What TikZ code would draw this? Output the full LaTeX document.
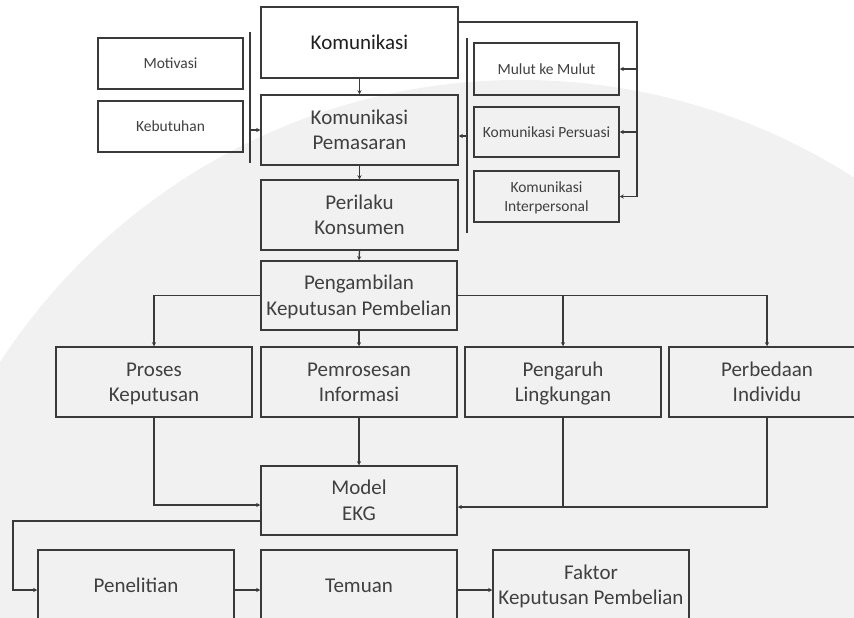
\documentclass[tikz,border=0pt]{standalone}
\usepackage{fontspec}
\setmainfont{Carlito}
\usetikzlibrary{arrows.meta,calc}
\definecolor{linec}{HTML}{3A3A3A}
\definecolor{textc}{HTML}{404040}
\definecolor{bgwm}{HTML}{F1F1F1}
\newcommand{\tline}[1]{\rule[-0.22\baselineskip]{0pt}{\baselineskip}#1}
\tikzset{
  box/.style={draw=linec, line width=1.5pt, text=textc, align=center, inner sep=0pt,
    minimum width=196pt, minimum height=70pt, font=\fontsize{21}{25.5}\selectfont},
  sbox/.style={box, minimum width=145pt, minimum height=51pt, font=\fontsize{15.5}{19.5}\selectfont},
  conn/.style={draw=linec, line width=1.3pt},
  arr/.style={conn, -{Stealth[length=4pt,width=4pt]}}
}
\begin{document}
\begin{tikzpicture}[x=1pt,y=-1pt]
\useasboundingbox (0,0) rectangle (854,618);
\clip (0,0) rectangle (854,618);
\fill[white] (0,0) rectangle (854,618);
\fill[bgwm] (520,700) circle (620);
% main column
\node[box, minimum width=197pt, minimum height=71pt, text=black!88] (kom) at (359.5,42.5) {\tline{Komunikasi}};
\node[box, minimum width=197pt] (pem) at (359.5,130) {\tline{Komunikasi}\\\tline{Pemasaran}};
\node[box, minimum width=197pt] (per) at (359.5,215) {\tline{Perilaku}\\\tline{Konsumen}};
\node[box, minimum height=69pt] (peng) at (359,295.5) {\tline{Pengambilan}\\\tline{Keputusan Pembelian}};
\node[box] (pros) at (154,382) {\tline{Proses}\\\tline{Keputusan}};
\node[box] (pemr) at (359,382) {\tline{Pemrosesan}\\\tline{Informasi}};
\node[box] (pengr) at (563,382) {\tline{Pengaruh}\\\tline{Lingkungan}};
\node[box] (perb) at (767,382) {\tline{Perbedaan}\\\tline{Individu}};
\node[box, minimum height=69pt] (model) at (359,500.5) {\tline{Model}\\\tline{EKG}};
\node[box] (pen) at (136,585) {\tline{Penelitian}};
\node[box] (tem) at (359,585) {\tline{Temuan}};
\node[box] (fak) at (591,585) {\tline{Faktor}\\\tline{Keputusan Pembelian}};
% side boxes
\node[sbox] (mot) at (170.5,63.5) {\tline{Motivasi}};
\node[sbox] (keb) at (170.5,126.5) {\tline{Kebutuhan}};
\node[sbox, minimum height=52pt] (mul) at (546.5,69) {\tline{Mulut ke Mulut}};
\node[sbox, minimum height=50pt] (pers) at (546.5,132) {\tline{Komunikasi Persuasi}};
\node[sbox] (inter) at (546.5,196.5) {\tline{Komunikasi}\\\tline{Interpersonal}};
% vertical chain
\draw[arr] (kom.south) -- (pem.north);
\draw[arr] (pem.south) -- (per.north);
\draw[arr] (per.south) -- (peng.north);
% left bar
\coordinate (lbT) at (250,32);
\coordinate (lbB) at (250,163);
\coordinate (lbA) at (250,130);
\draw[conn] (lbT) -- (lbB);
\draw[arr] (lbA) -- (lbA -| pem.west);
% right bar
\coordinate (rbT) at (467,38);
\coordinate (rbB) at (467,233);
\coordinate (rbA) at (467,136);
\draw[conn] (rbT) -- (rbB);
\draw[arr] (rbA) -- (rbA -| pem.east);
% Komunikasi to right boxes
\coordinate (kr) at (637,22);
\draw[conn] (kom.east |- kr) -- (kr) -- (kr |- inter.east);
\draw[arr] (kr |- mul.east) -- (mul.east);
\draw[arr] (kr |- pers.east) -- (pers.east);
\draw[arr] (kr |- inter.east) -- (inter.east);
% branches from Pengambilan
\draw[arr] (peng.west) -| (pros.north);
\draw[arr] (peng.east) -| (pengr.north);
\draw[arr] (peng.east) -| (perb.north);
\draw[arr] (peng.south) -- (pemr.north);
% into Model
\draw[arr] (pros.south) |- ($(model.west)+(0,4.5)$);
\draw[arr] (pemr.south) -- (model.north);
\coordinate (mR) at ($(model.east)+(0,6.5)$);
\draw[arr] (perb.south) |- (mR);
\draw[conn] (pengr.south) -- (pengr.south |- mR);
% Model to bottom row
\coordinate (ml) at (13,521);
\draw[arr] (ml -| model.west) -- (ml) |- ($(pen.west)+(0,5)$);
\draw[arr] ($(pen.east)+(0,5)$) -- ($(tem.west)+(0,5)$);
\draw[arr] ($(tem.east)+(0,5)$) -- ($(fak.west)+(0,5)$);
\end{tikzpicture}
\end{document}
